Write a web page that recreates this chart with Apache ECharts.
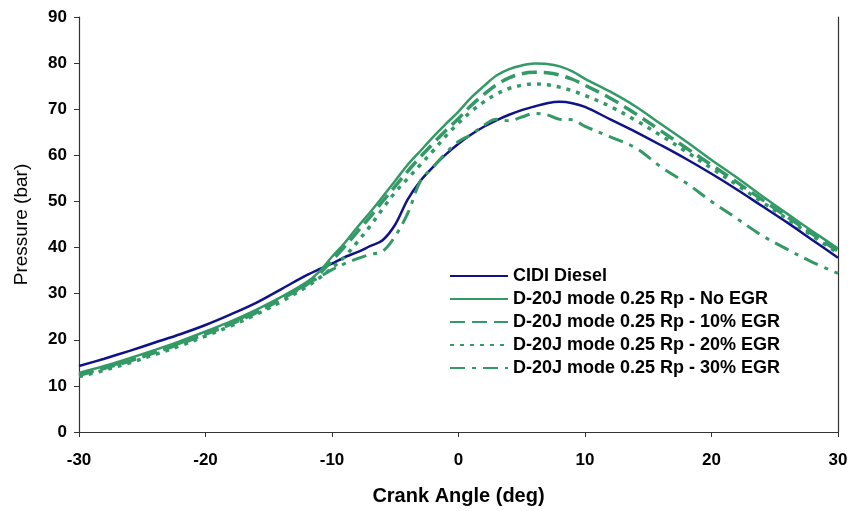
<!DOCTYPE html>
<html>
<head>
<meta charset="utf-8">
<script src="https://cdn.jsdelivr.net/npm/echarts@6/dist/echarts.min.js"></script>
<style>
  html, body { margin: 0; padding: 0; background: #fff; }
  #chart { width: 851px; height: 511px; }
</style>
</head>
<body>
<div id="chart"></div>
<script>
// crank angle (deg)
const angles = [-30, -28, -26, -24, -22, -20, -18, -16, -14, -12, -11, -10, -9, -8, -7, -6, -5, -4, -3, -2, -1,
  0, 1, 2, 3, 4, 5, 6, 7, 8, 9, 10, 12, 14, 16, 18, 20, 22, 24, 26, 28, 30];

// pressure (bar)
const cidiDiesel = [14.3, 15.9, 17.6, 19.4, 21.2, 23.2, 25.5, 28.0, 31.0, 34.0, 35.3, 36.5, 37.9, 39.0, 40.3, 41.6, 45.0, 50.5, 54.5, 57.5, 60.2,
  62.5, 64.5, 66.2, 67.6, 68.8, 69.8, 70.6, 71.3, 71.6, 71.3, 70.5, 67.8, 65.1, 62.2, 59.2, 56.0, 52.6, 49.0, 45.4, 41.6, 37.8];
const noEgr = [12.8, 14.3, 16.0, 17.8, 19.7, 21.8, 24.0, 26.5, 29.3, 32.5, 34.8, 38.0, 41.0, 44.4, 47.6, 51.0, 54.5, 58.0, 61.0, 64.0, 66.8,
  69.5, 72.5, 75.0, 77.3, 78.7, 79.5, 79.9, 79.8, 79.3, 78.2, 76.6, 73.8, 70.6, 66.8, 63.0, 59.0, 55.2, 51.2, 47.3, 43.5, 39.8];
const egr10 = [12.3, 13.8, 15.4, 17.2, 19.1, 21.2, 23.4, 25.9, 28.8, 32.0, 34.3, 37.2, 40.2, 43.4, 46.6, 50.0, 53.3, 56.6, 59.7, 62.6, 65.4,
  68.0, 70.8, 73.2, 75.3, 76.8, 77.7, 78.0, 77.9, 77.4, 76.5, 75.2, 72.4, 69.0, 65.3, 61.6, 57.9, 54.2, 50.4, 46.6, 42.9, 39.2];
const egr20 = [12.0, 13.4, 15.0, 16.8, 18.7, 20.8, 23.0, 25.5, 28.3, 31.5, 33.4, 35.6, 38.0, 41.2, 44.6, 48.4, 52.0, 55.0, 58.0, 61.0, 64.2,
  67.0, 69.5, 71.6, 73.3, 74.5, 75.2, 75.5, 75.3, 74.8, 74.0, 73.0, 70.6, 67.6, 64.3, 60.8, 57.2, 53.6, 49.9, 46.2, 42.5, 38.8];
const egr30 = [12.5, 14.0, 15.6, 17.4, 19.3, 21.4, 23.7, 26.2, 29.0, 32.0, 33.6, 35.2, 36.5, 37.6, 38.5, 39.2, 42.5, 47.5, 54.5, 57.5, 60.5,
  63.0, 64.5, 66.5, 67.8, 67.5, 68.3, 69.1, 68.8, 67.8, 67.7, 66.3, 64.0, 61.6, 57.5, 54.0, 50.0, 46.3, 42.6, 39.6, 36.8, 34.4];

const seriesNames = [
  "CIDI Diesel",
  "D-20J mode 0.25 Rp - No EGR",
  "D-20J mode 0.25 Rp - 10% EGR",
  "D-20J mode 0.25 Rp - 20% EGR",
  "D-20J mode 0.25 Rp - 30% EGR",
];

const NAVY = "#101288";
const GREEN = "#339966";

function pairs(values) {
  return angles.map((a, i) => [a, values[i]]);
}

function line(name, values, color, width, type) {
  return {
    name,
    type: "line",
    data: pairs(values),
    smooth: 0.35,
    symbol: "none",
    lineStyle: { color, width, type },
    itemStyle: { color },
  };
}

const chart = echarts.init(document.getElementById("chart"), null, { renderer: "canvas" });

const labelFont = { color: "#000", fontFamily: "Liberation Sans", fontWeight: "bold", fontSize: 17 };

chart.setOption({
  animation: false,
  backgroundColor: "#fff",
  grid: { left: 79, right: 13, top: 17, bottom: 78, containLabel: false },
  legend: {
    orient: "vertical",
    left: 449,
    top: 267,
    itemWidth: 58,
    itemHeight: 14,
    itemGap: 5,
    padding: 0,
    itemStyle: { color: "transparent", borderWidth: 0, opacity: 0 },
    textStyle: { color: "#000", fontFamily: "Liberation Sans", fontWeight: "bold", fontSize: 18 },
    data: seriesNames,
  },
  xAxis: {
    type: "value",
    min: -30,
    max: 30,
    interval: 10,
    name: "Crank Angle (deg)",
    nameLocation: "middle",
    nameGap: 54,
    nameTextStyle: { color: "#000", fontFamily: "Liberation Sans", fontWeight: "bold", fontSize: 20 },
    axisLine: { onZero: false, lineStyle: { color: "#333", width: 1.2 } },
    axisTick: { show: true, inside: false, length: 5, lineStyle: { color: "#333" } },
    axisLabel: { ...labelFont, margin: 20 },
    splitLine: { show: false },
  },
  yAxis: [
    {
      type: "value",
      min: 0,
      max: 90,
      interval: 10,
      name: "Pressure (bar)",
      nameLocation: "middle",
      nameGap: 48,
      nameTextStyle: { color: "#000", fontFamily: "Liberation Sans", fontSize: 19 },
      axisLine: { show: true, onZero: false, lineStyle: { color: "#333", width: 1.2 } },
      axisTick: { show: true, inside: false, length: 5, lineStyle: { color: "#333" } },
      axisLabel: { ...labelFont, margin: 12 },
      splitLine: { show: false },
    },
    {
      type: "value",
      position: "right",
      min: 0,
      max: 90,
      axisLine: { show: true, onZero: false, lineStyle: { color: "#333", width: 1.2 } },
      axisTick: { show: false },
      axisLabel: { show: false },
      splitLine: { show: false },
    },
  ],
  series: [
    line(seriesNames[0], cidiDiesel, NAVY, 2.5, "solid"),
    line(seriesNames[1], noEgr, GREEN, 2.5, "solid"),
    line(seriesNames[2], egr10, GREEN, 3.5, [15, 7]),
    line(seriesNames[3], egr20, GREEN, 3.5, [4, 6]),
    line(seriesNames[4], egr30, GREEN, 3, [15, 7, 4, 7]),
  ],
});
</script>
</body>
</html>
